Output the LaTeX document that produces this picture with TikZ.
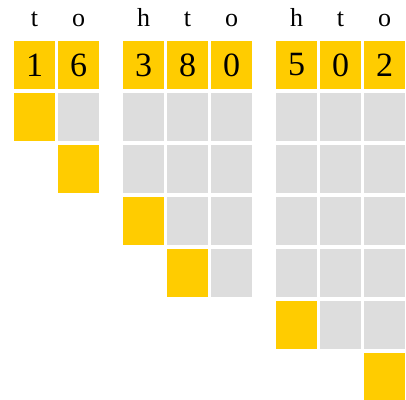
\documentclass[tikz,border=0pt]{standalone}
\usepackage{fontspec}
\setmainfont{Liberation Serif}
\usetikzlibrary{positioning}
\definecolor{hilite}{HTML}{FFCC00}
\definecolor{blank}{HTML}{DDDDDD}

\begin{document}
\begin{tikzpicture}[x=1pt, y=-1pt,
  cell/.style={minimum width=41pt, minimum height=48pt, inner sep=0pt,
               outer sep=0pt},
  dig/.style={cell, fill=hilite, font=\fontsize{34}{40}\selectfont},
  hit/.style={cell, fill=hilite},
  gry/.style={cell, fill=blank},
  head/.style={anchor=base, inner sep=0pt,
               font=\fontsize{26}{30}\selectfont}]
  \useasboundingbox (0,0) rectangle (406,399);
  % two-digit number
  \node[dig] (a1) at (34.5,65) {1};
  \node[dig, right=3pt of a1] (a2) {6};
  \node[head] (ha1) at (34.5,26.7) {t};
  \node[head] (ha2) at (78.5,26.7) {o};
  \node[hit, below=4pt of a1] (ay1) {};
  \node[gry, below=4pt of a2] (ag1) {};
  \node[hit, below=4pt of ag1] (ay2) {};
  % three-digit number, first
  \node[dig] (b1) at (143.5,65) {3};
  \node[dig, right=3pt of b1] (b2) {8};
  \node[dig, right=3pt of b2] (b3) {0};
  \foreach \x/\t in {143.5/h,187.5/t,231.5/o}
    \node[head] (hb-\t) at (\x,26.7) {\t};
  \foreach \y in {117,169}
    \foreach \x in {143.5,187.5,231.5}
      \node[gry] (bg-\x-\y) at (\x,\y) {};
  \node[hit] (by1) at (143.5,221) {};
  \node[gry, right=3pt of by1] (bg1) {};
  \node[gry, right=3pt of bg1] (bg2) {};
  \node[hit, below=4pt of bg1] (by2) {};
  \node[gry, below=4pt of bg2] (bg3) {};
  % three-digit number, second
  \node[dig] (c1) at (296.5,65) {5};
  \node[dig, right=3pt of c1] (c2) {0};
  \node[dig, right=3pt of c2] (c3) {2};
  \foreach \x/\t in {296.5/h,340.5/t,384.5/o}
    \node[head] (hc-\t) at (\x,26.7) {\t};
  \foreach \y in {117,169,221,273}
    \foreach \x in {296.5,340.5,384.5}
      \node[gry] (cg-\x-\y) at (\x,\y) {};
  \node[hit] (cy1) at (296.5,325) {};
  \node[gry, right=3pt of cy1] (cg1) {};
  \node[gry, right=3pt of cg1] (cg2) {};
  \node[hit, below=4pt of cg2] (cy2) {};
\end{tikzpicture}
\end{document}
